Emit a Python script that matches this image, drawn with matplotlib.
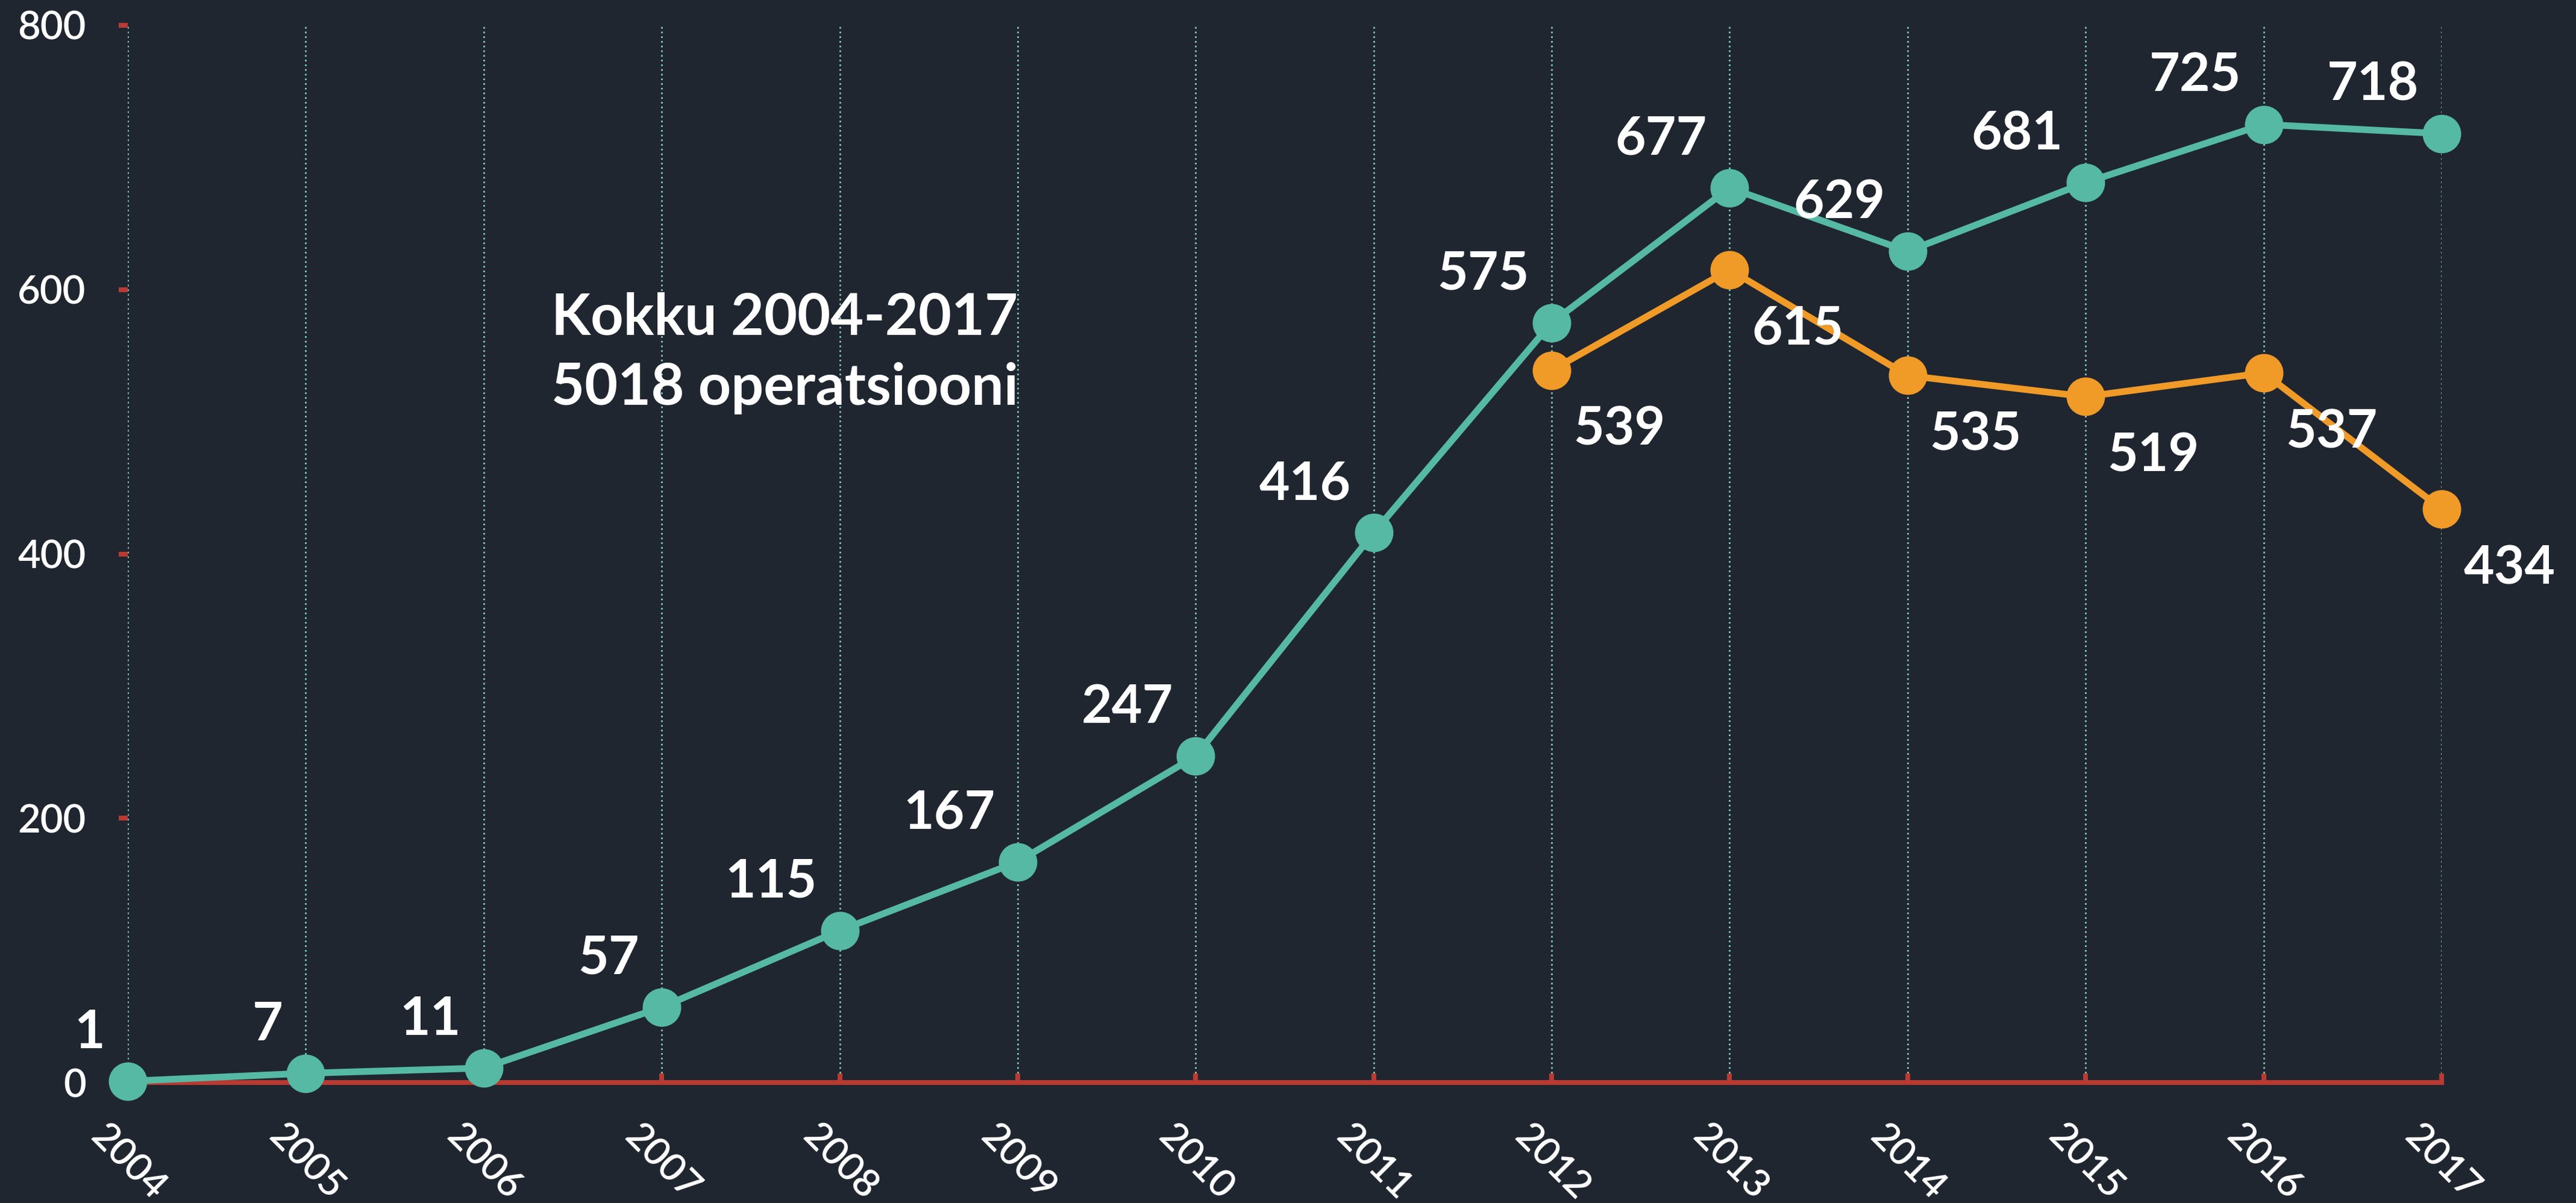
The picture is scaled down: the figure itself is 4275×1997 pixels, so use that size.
import matplotlib
matplotlib.use("Agg")
import matplotlib.pyplot as plt

years = list(range(2004, 2018))
total = [1, 7, 11, 57, 115, 167, 247, 416, 575, 677, 629, 681, 725, 718]
years_b = list(range(2012, 2018))
second = [539, 615, 535, 519, 537, 434]
yticks = [0, 200, 400, 600, 800]
note_lines = ["Kokku 2004-2017", "5018 operatsiooni"]

BG = "#1f2630"
TEAL = "#55b9a4"
ORANGE = "#f09a28"
RED = "#b93a31"
GRID = "#86cbc2"
WHITE = "#ffffff"

plt.rcParams['font.family'] = ['Lato', 'DejaVu Sans']

fig = plt.figure(figsize=(42.75, 19.97), dpi=100, facecolor=BG)
ax = fig.add_axes([212/4275, 1 - 1797/1997, (4052-212)/4275, (1797-42)/1997])
ax.set_facecolor(BG)

ax.set_xlim(2004, 2017)
ax.set_ylim(0, 800)

# grid
ax.set_xticks(years)
ax.set_xticklabels([str(y) for y in years])
ax.xaxis.grid(True, color=GRID, linewidth=2.0, linestyle=(0, (1, 1.8)), zorder=0)
ax.yaxis.grid(False)
ax.set_axisbelow(True)

ax.plot(years, total, color=TEAL, lw=8, marker='o', ms=45, clip_on=False, zorder=3)
ax.plot(years_b, second, color=ORANGE, lw=8, marker='o', ms=45, clip_on=False, zorder=3)

for x, v in zip(years, total):
    ax.annotate(str(v), (x, v), xytext=(-27, 58), textcoords='offset points',
                ha='right', va='center', color=WHITE, fontsize=63, fontweight='bold', zorder=5)
for x, v in zip(years_b, second):
    ax.annotate(str(v), (x, v), xytext=(81, -71), textcoords='offset points',
                ha='center', va='center', color=WHITE, fontsize=63, fontweight='bold', zorder=5)

# spines
for s in ['left', 'top', 'right']:
    ax.spines[s].set_visible(False)
ax.spines['bottom'].set_color(RED)
ax.spines['bottom'].set_linewidth(5.8)
ax.spines['bottom'].set_zorder(2)

ax.set_yticks(yticks)
ax.set_yticklabels([str(v) for v in yticks])
ax.tick_params(axis='y', colors=RED, length=11, width=5.8, pad=39, labelcolor=WHITE, labelsize=47)
ax.tick_params(axis='x', colors=RED, direction='in', length=11, width=5.8, pad=43,
               labelcolor=WHITE, labelsize=46)
for lab in ax.get_xticklabels():
    lab.set_rotation(-45)
    lab.set_ha('center')
    lab.set_va('top')
    lab.set_fontweight('semibold')
for lab in ax.get_yticklabels():
    lab.set_fontweight('semibold')

ax.text(915/4275, 1 - 555/1997, note_lines[0], transform=fig.transFigure,
        ha='left', va='baseline', color=WHITE, fontsize=68.5, fontweight='bold')
ax.text(915/4275, 1 - 672/1997, note_lines[1], transform=fig.transFigure,
        ha='left', va='baseline', color=WHITE, fontsize=68.5, fontweight='bold')

fig.savefig("out.png", dpi=100, facecolor=BG)
